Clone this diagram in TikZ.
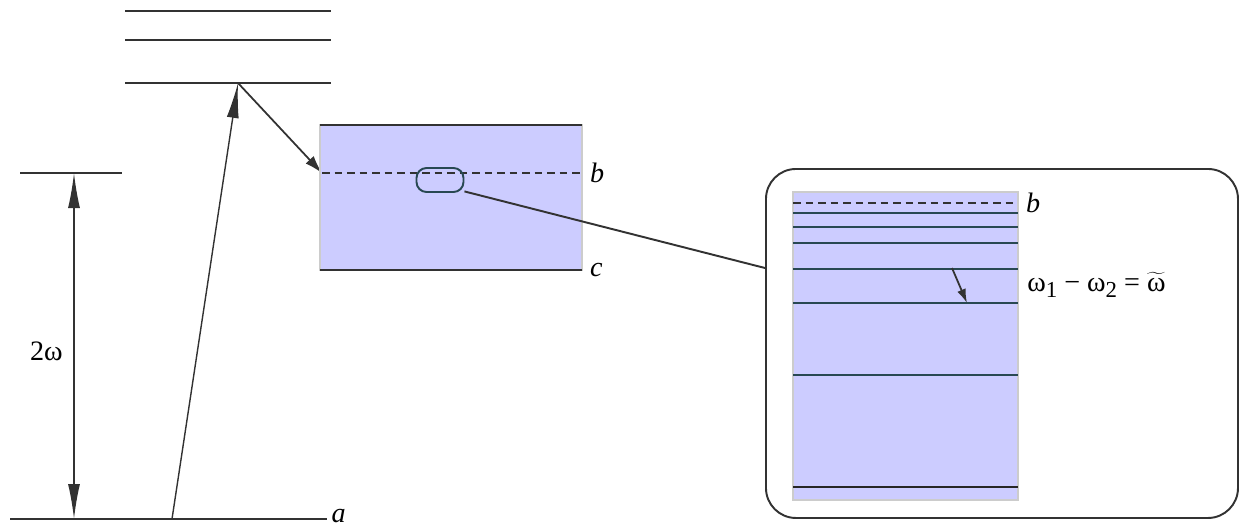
\documentclass[tikz,border=0pt]{standalone}
\usepackage{fontspec}
\setmainfont{Liberation Serif}
\usetikzlibrary{arrows.meta}
\definecolor{bandblue}{RGB}{204,204,255}
\definecolor{levelgray}{RGB}{50,50,50}
\definecolor{finelevel}{RGB}{40,72,82}
\tikzset{
  level/.style={line width=1.3pt, draw=levelgray},
  fine/.style={line width=0.9pt, draw=finelevel},
  trans/.style={line width=0.8pt, draw=levelgray},
  bigtip/.style={-{Latex[length=7mm,width=2.4mm]}},
  lbl/.style={font=\fontsize{16}{19}\selectfont, inner sep=4pt, text=black},
  bandfill/.style={fill=bandblue, draw=gray!40, line width=1.2pt},
  dashlevel/.style={draw=levelgray, line width=1.3pt, dash pattern=on 1.5mm off 1mm},
}
\newcommand\lowsub[1]{\raisebox{-0.5ex}{\fontsize{13}{13}\selectfont #1}}

\begin{document}
\begin{tikzpicture}[x=0.2mm,y=-0.2mm]
\useasboundingbox (0,0) rectangle (1239,527);

% upper levels
\draw[levelgray, line width=0.6pt] (125,11) -- (331,11);
\draw[level] (125,40) -- (331,40);
\draw[level] (125,83) -- (331,83);
% two-photon level and ground level
\draw[level] (20,173) -- (122,173);
\draw[level] (10,519) -- (327,519) node[right, lbl, inner sep=2pt, yshift=1.5pt] (a) {\textit{a}};

\coordinate (up) at (74,173);
\coordinate (dn) at (74,519);
\coordinate (pump0) at (172,519);
\coordinate (pump1) at (238,83);
\coordinate (bleft) at (322,173);

% 2w interval
\draw[trans, {Latex[length=7mm,width=2.4mm]}-{Latex[length=7mm,width=2.4mm]}] (up) -- (dn)
  node[midway, left, lbl, inner sep=6pt, yshift=-1mm] (tw) {2ω};
% pump and decay
\draw[trans, bigtip] (pump0) -- (pump1);
\draw[trans, line width=1pt, -{Latex[length=3.6mm,width=2.2mm]}] (pump1) -- (bleft);

% band b--c
\fill[bandfill] (320,125) rectangle (582,270);
\draw[level] (320,125) -- (582,125);
\draw[level] (320,270) -- (582,270) node[right, lbl] (c) {\textit{c}};
\draw[dashlevel] (bleft) -- (582,173) node[right, lbl] (b) {\textit{b}};
\node[draw=finelevel, line width=1.1pt, rounded corners=2mm,
  minimum width=9.4mm, minimum height=4.8mm, inner sep=0pt] (spot) at (440,180) {};

% magnified part
\node[draw=levelgray, line width=1.1pt, rounded corners=6mm, anchor=north west,
  minimum width=94.4mm, minimum height=69.8mm, inner sep=0pt] (zoom) at (765,168) {};
\coordinate (zin) at (765,268);
\draw[levelgray, line width=1.1pt] (spot.-25) -- (zin);

\fill[bandfill] (793,192) rectangle (1018,500);
\draw[dashlevel] (793,203) -- (1018,203) node[right, lbl] (bz) {\textit{b}};
\foreach \y in {213,227,243,269,303,375}
  \draw[fine] (793,\y) -- (1018,\y);
\draw[line width=1.6pt, draw=black!85] (793,487) -- (1018,487);

\coordinate (w1) at (952,268);
\coordinate (w2) at (967,303);
\draw[trans, line width=1pt, -{Latex[length=2.8mm,width=1.8mm]}] (w1) -- (w2);
\node[lbl, anchor=west, inner sep=0pt] (beat) at (1027,285)
  {ω\lowsub{1} − ω\lowsub{2} = $\widetilde{\mbox{ω}}$};
\end{tikzpicture}
\end{document}
